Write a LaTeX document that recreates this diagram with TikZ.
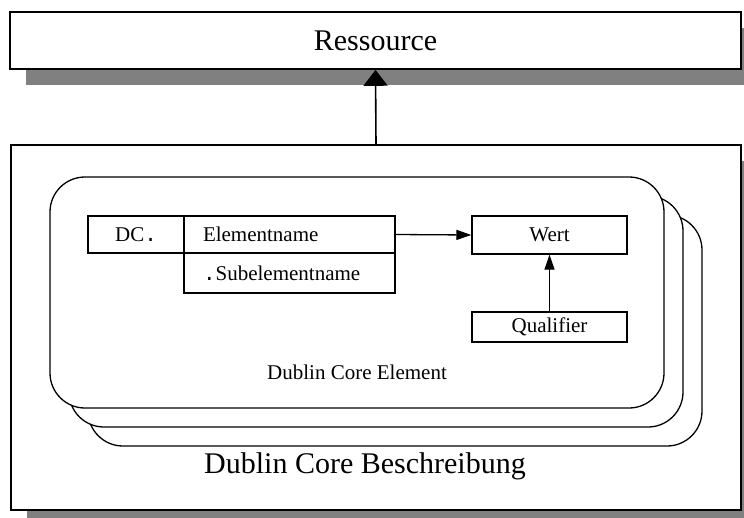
\documentclass[tikz,border=0pt]{standalone}
\usepackage{fontspec}
\setmainfont{Liberation Serif}
\newfontfamily\monodot{Liberation Mono}
\usetikzlibrary{arrows.meta,shadows}

\tikzset{
	bigbox/.style={draw, line width=1.6pt, fill=white, inner sep=0pt,
		drop shadow={shadow xshift=16pt, shadow yshift=-16pt, fill=black!50, opacity=1},
		font=\fontsize{30}{36}\selectfont},
	bigtext/.style={font=\fontsize{30}{36}\selectfont},
	cell/.style={draw, line width=1.3pt, inner sep=0pt, font=\fontsize{21}{25}\selectfont},
	stack/.style={draw, line width=1.3pt, fill=white, rounded corners=35pt},
	small/.style={font=\fontsize{21}{25}\selectfont},
}

\begin{document}
\begin{tikzpicture}[x=1pt, y=-1pt]
	\useasboundingbox (0,0) rectangle (744,517);
	\clip (0,0) rectangle (744,517);

	\node[bigbox, minimum width=731pt, minimum height=57pt] (res) at (375.5,40.5) {Ressource};
	\node[bigbox, minimum width=730pt, minimum height=365pt] (desc) at (376,327.5) {};
	\node[bigtext] (desctext) at (365,466) {Dublin Core Beschreibung};

	\draw[line width=1.6pt, -{Triangle[length=16pt, width=24pt]}] (desc.north) -- (res.south);

	\foreach \d in {38,19}
		\draw[stack] (50+\d,177+\d) rectangle (664+\d,408+\d);
	\node[stack, inner sep=0pt, minimum width=614pt, minimum height=231pt] (elem) at (357,292.5) {};
	\node[small] (elemtext) at (357,372) {Dublin Core Element};

	\node[cell, minimum width=96pt, minimum height=37pt] (dc) at (136,234.5) {DC{\monodot.}};
	\node[cell, minimum height=37pt, inner xsep=19pt, text width=173pt, align=left] (elname) at (289.5,234.5) {Elementname};
	\node[cell, minimum height=40pt, inner xsep=19pt, text width=173pt, align=left] (sub) at (289.5,273) {{\monodot.}Subelementname};
	\node[cell, minimum width=155pt, minimum height=38pt] (wert) at (549.5,235) {Wert};
	\node[cell, minimum width=155pt, minimum height=30pt] (qual) at (549.5,327) {Qualifier};

	\draw[line width=1.3pt, -{Triangle[length=15pt, width=10pt]}] (elname.east) -- (wert.west);
	\draw[line width=1.3pt, -{Triangle[length=15pt, width=10pt]}] (qual.north) -- (wert.south);
\end{tikzpicture}
\end{document}
